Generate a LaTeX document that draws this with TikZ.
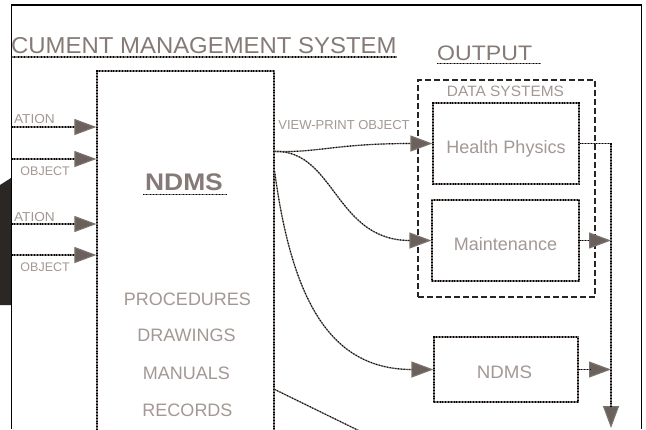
\documentclass[tikz,border=0pt]{standalone}
\usepackage{fontspec}
\setmainfont{Liberation Sans}
\usepackage{graphicx}
\usetikzlibrary{arrows.meta}
\definecolor{lg}{HTML}{7A726E}
\definecolor{tx}{HTML}{A39894}
\definecolor{tt}{HTML}{857A76}
\definecolor{ah}{HTML}{6A605C}
\definecolor{blobc}{HTML}{2B2724}
\newcommand\fsz[1]{\fontsize{#1bp}{#1bp}\selectfont}
\newcommand\hsc[2]{\scalebox{#1}[1]{#2}}
\tikzset{
  ln/.style={draw=lg, line width=1.2bp,
    postaction={draw=black, -, line width=1.1bp, dash pattern=on 0.9bp off 1.9bp}},
  boxn/.style={ln, rectangle, inner sep=0pt},
  ar/.style={draw=lg, line width=1.2bp, -{Triangle[length=22bp,width=16bp,fill=ah]},
    postaction={draw=black, -, shorten >=21bp, line width=1.1bp, dash pattern=on 0.9bp off 1.9bp}},
  dbox/.style={draw=black!85, line width=1.3bp, dash pattern=on 6bp off 3bp, rectangle, inner sep=0pt},
  frame/.style={draw=black, line width=1.4bp},
  txt/.style={text=tx, inner sep=0pt},
  ttl/.style={text=tt, inner sep=0pt},
  uline/.style={draw=lg, line width=1.2bp, postaction={draw=black, line width=1.1bp, dash pattern=on 0.9bp off 2.4bp}}
}
\begin{document}
\begin{tikzpicture}[x=1bp,y=-1bp]
\useasboundingbox (0,0) rectangle (646,429);
\fill[white] (0,0) rectangle (646,429);
% frame and cut-off fragment at left
\fill[blobc] (0,185) -- (11,178) -- (11,305) -- (0,305) -- cycle;
\draw[frame] (11.5,429) -- (11.5,5) -- (641.5,5) -- (641.5,429);

% titles
\node[ttl, anchor=base west] (title) at (11,53) {\fsz{23}\hsc{1.04}{CUMENT MANAGEMENT SYSTEM}};
\draw[uline] (11,57) -- (397,57);
\node[ttl, anchor=base west] (output) at (437,60) {\fsz{21}\hsc{1.1}{OUTPUT}};
\draw[uline] (437,63.5) -- (541,63.5);

% main box
\node[boxn, minimum width=177bp, minimum height=380bp] (ndms) at (185.5,261) {};
\node[ttl, anchor=base] (ndmsl) at (184,190) {\fsz{24}\bfseries\hsc{1.1}{NDMS}};
\draw[uline] (143,194.5) -- (226,194.5);
\node[txt, anchor=base] (proc) at (187.5,305) {\fsz{18}PROCEDURES};
\node[txt, anchor=base] (draw) at (186.5,341.5) {\fsz{18}DRAWINGS};
\node[txt, anchor=base] (man) at (186.5,379.5) {\fsz{18}MANUALS};
\node[txt, anchor=base] (rec) at (187.5,416.5) {\fsz{18}RECORDS};

% inputs
\coordinate (i1) at (11.5,127);
\coordinate (i2) at (11.5,159);
\coordinate (i3) at (11.5,224);
\coordinate (i4) at (11.5,255);
\draw[ar] (i1) -- (i1 -| ndms.west);
\draw[ar] (i2) -- (i2 -| ndms.west);
\draw[ar] (i3) -- (i3 -| ndms.west);
\draw[ar] (i4) -- (i4 -| ndms.west);
\node[txt, anchor=base east] (l1) at (55,123.5) {\fsz{13}\hsc{1.05}{ATION}};
\node[txt, anchor=base east] (l2) at (70,175) {\fsz{12.5}OBJECT};
\node[txt, anchor=base east] (l3) at (55,221.5) {\fsz{13}\hsc{1.05}{ATION}};
\node[txt, anchor=base east] (l4) at (70,271.5) {\fsz{12.5}OBJECT};

% output data systems
\node[dbox, minimum width=177bp, minimum height=217bp] (ds) at (506.5,188.5) {};
\node[txt, anchor=base] (dsl) at (505.5,96) {\fsz{15}\hsc{1.03}{DATA SYSTEMS}};
\node[boxn, minimum width=146bp, minimum height=81bp] (hp) at (506,143.5) {};
\node[txt, anchor=base] (hpl) at (506,153) {\fsz{18}Health Physics};
\node[boxn, minimum width=147bp, minimum height=81bp] (mt) at (505.5,240.5) {};
\node[txt, anchor=base] (mtl) at (505.5,250) {\fsz{18}Maintenance};
\node[boxn, minimum width=144bp, minimum height=65bp] (nd2) at (506,369.5) {};
\node[txt, anchor=base] (nd2l) at (504.5,378) {\fsz{18}\hsc{1.04}{NDMS}};

% connectors from main box
\node[txt, anchor=base] (vpo) at (344,129) {\fsz{13}VIEW-PRINT OBJECT};
\draw[ar] (ndms.north east) ++(0,81) .. controls (318,153) and (335,143.5) .. (hp.west);
\draw[ar] (ndms.north east) ++(0,81) .. controls (335,150) and (335,240.5) .. (mt.west);
\draw[ar] (ndms.north east) ++(0,101) .. controls (292,300) and (330,369.5) .. (nd2.west);
\coordinate (off) at (378,440);
\draw[ln] (ndms.north east) ++(0,319) -- (off);

% output bus
\coordinate (busEnd) at (611,428);
\draw[ar] (hp.east) -- (hp.east -| busEnd) -- (busEnd);
\draw[ar] (mt.east) -- (mt.east -| busEnd);
\draw[ar] (nd2.east) -- (nd2.east -| busEnd);
\end{tikzpicture}
\end{document}
